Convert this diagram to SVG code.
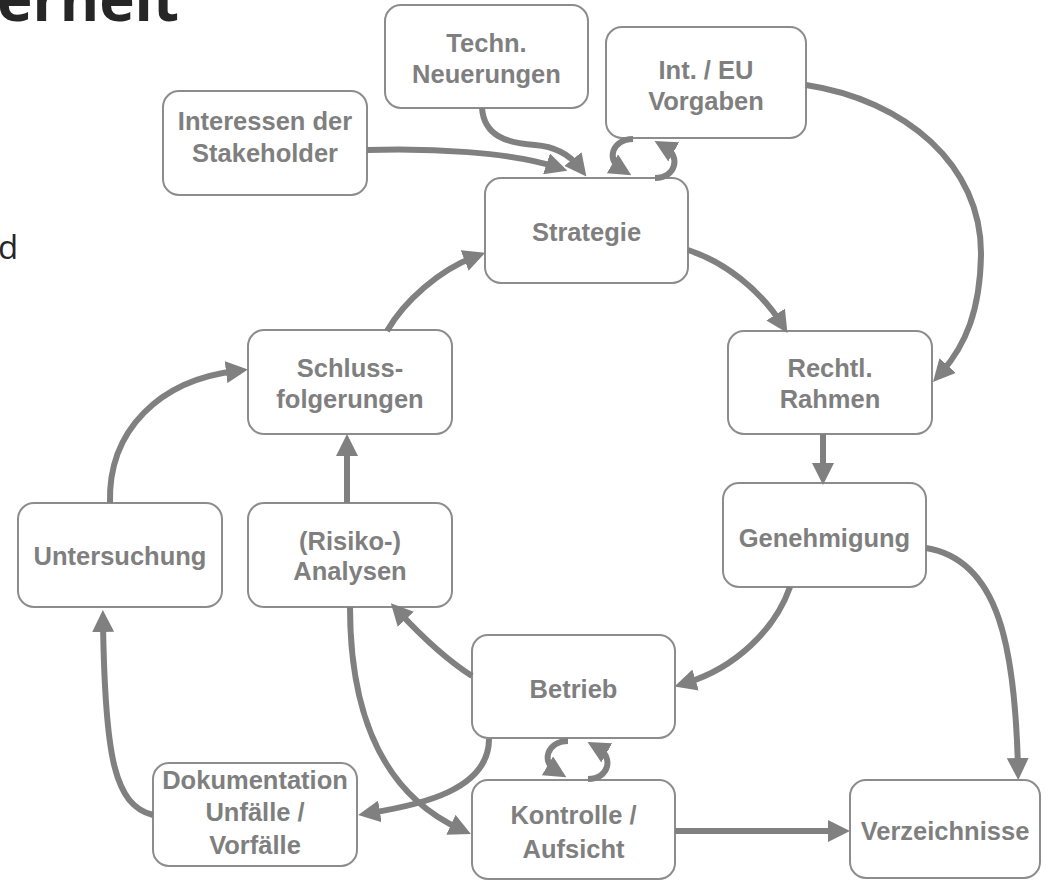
<svg xmlns="http://www.w3.org/2000/svg" width="1046" height="881" viewBox="0 0 1046 881">
<defs>
<style>
.box{fill:#ffffff;stroke:#8c8c8c;stroke-width:2}
.lbl{font-family:"Liberation Sans",Arial,sans-serif;font-weight:bold;font-size:25.5px;fill:#7f7f7f;text-anchor:middle}
.con{fill:none;stroke:#808080;stroke-width:6;marker-end:url(#ah)}
.title{font-family:"Open Sans","Noto Sans",sans-serif;fill:#262626}
</style>
<marker id="ah" markerUnits="userSpaceOnUse" markerWidth="22" markerHeight="22" viewBox="0 0 22 22" refX="10" refY="11" orient="auto">
<path d="M0,0 L22,11 L0,22 z" fill="#808080"/>
</marker>
</defs>
<rect width="1046" height="881" fill="#ffffff"/>
<text class="title" x="-3" y="21" font-size="60" font-weight="bold">erheit</text>
<text class="title" x="-2" y="259" font-size="33">d</text>

<g id="techn"><rect class="box" x="385" y="5" width="203" height="103" rx="16"/><text class="lbl" x="486.5" y="52">Techn.</text><text class="lbl" x="486.5" y="83">Neuerungen</text></g>
<g id="inteu"><rect class="box" x="606" y="27" width="200" height="111" rx="16"/><text class="lbl" x="706" y="79">Int. / EU</text><text class="lbl" x="706" y="110">Vorgaben</text></g>
<g id="interessen"><rect class="box" x="163" y="91" width="204" height="104" rx="16"/><text class="lbl" x="265" y="130">Interessen der</text><text class="lbl" x="265" y="162">Stakeholder</text></g>
<g id="strategie"><rect class="box" x="485" y="178" width="203" height="105" rx="16"/><text class="lbl" x="586.5" y="241">Strategie</text></g>
<g id="rechtl"><rect class="box" x="728" y="331" width="204" height="103" rx="16"/><text class="lbl" x="830" y="377">Rechtl.</text><text class="lbl" x="830" y="408">Rahmen</text></g>
<g id="genehmigung"><rect class="box" x="723" y="483" width="203" height="104" rx="16"/><text class="lbl" x="824.5" y="547">Genehmigung</text></g>
<g id="betrieb"><rect class="box" x="472" y="635" width="203" height="103" rx="16"/><text class="lbl" x="573.5" y="698">Betrieb</text></g>
<g id="kontrolle"><rect class="box" x="472" y="780" width="203" height="99" rx="16"/><text class="lbl" x="573.5" y="824">Kontrolle /</text><text class="lbl" x="573.5" y="858">Aufsicht</text></g>
<g id="verzeichnisse"><rect class="box" x="850" y="780" width="190" height="98" rx="16"/><text class="lbl" x="945" y="840">Verzeichnisse</text></g>
<g id="dokumentation"><rect class="box" x="153" y="763" width="204" height="103" rx="16"/><text class="lbl" x="255" y="789">Dokumentation</text><text class="lbl" x="255" y="821">Unfälle /</text><text class="lbl" x="255" y="854">Vorfälle</text></g>
<g id="untersuchung"><rect class="box" x="18" y="503" width="204" height="104" rx="16"/><text class="lbl" x="120" y="565">Untersuchung</text></g>
<g id="analysen"><rect class="box" x="248" y="503" width="204" height="104" rx="16"/><text class="lbl" x="350" y="550">(Risiko-)</text><text class="lbl" x="350" y="580">Analysen</text></g>
<g id="schluss"><rect class="box" x="248" y="330" width="204" height="104" rx="16"/><text class="lbl" x="350" y="377">Schluss-</text><text class="lbl" x="350" y="408">folgerungen</text></g>

<g id="connectors">
<path class="con" d="M367,150 C430,148 510,152 556,167"/>
<path class="con" d="M482,108 C484,135 505,143 535,145 C560,147 572,158 579,167"/>
<path class="con" d="M633,139 C612,139 606,160 621,169"/>
<path class="con" d="M655,178 C676,178 681,156 665,147"/>
<path class="con" d="M806,85 C905,100 982,165 981,255 C980,310 966,345 941,373"/>
<path class="con" d="M688,250 C725,262 760,290 781,323"/>
<path class="con" d="M823,434 C823,450 823,460 823,473"/>
<path class="con" d="M790,587 C775,630 735,668 686,683"/>
<path class="con" d="M926,548 C1000,560 1015,650 1018,768"/>
<path class="con" d="M472,676 C450,662 425,640 399,612"/>
<path class="con" d="M568,741 C547,741 541,762 556,771"/>
<path class="con" d="M588,779 C609,779 614,757 598,748"/>
<path class="con" d="M489,739 C489,790 420,805 370,813"/>
<path class="con" d="M350,607 C350,700 375,790 460,829"/>
<path class="con" d="M675,831 L838,831"/>
<path class="con" d="M153,815 C115,805 105,760 103,622"/>
<path class="con" d="M110,503 C108,430 160,380 236,371"/>
<path class="con" d="M347,503 L347,446"/>
<path class="con" d="M387,331 C405,300 440,270 474,257"/>
</g>
</svg>
